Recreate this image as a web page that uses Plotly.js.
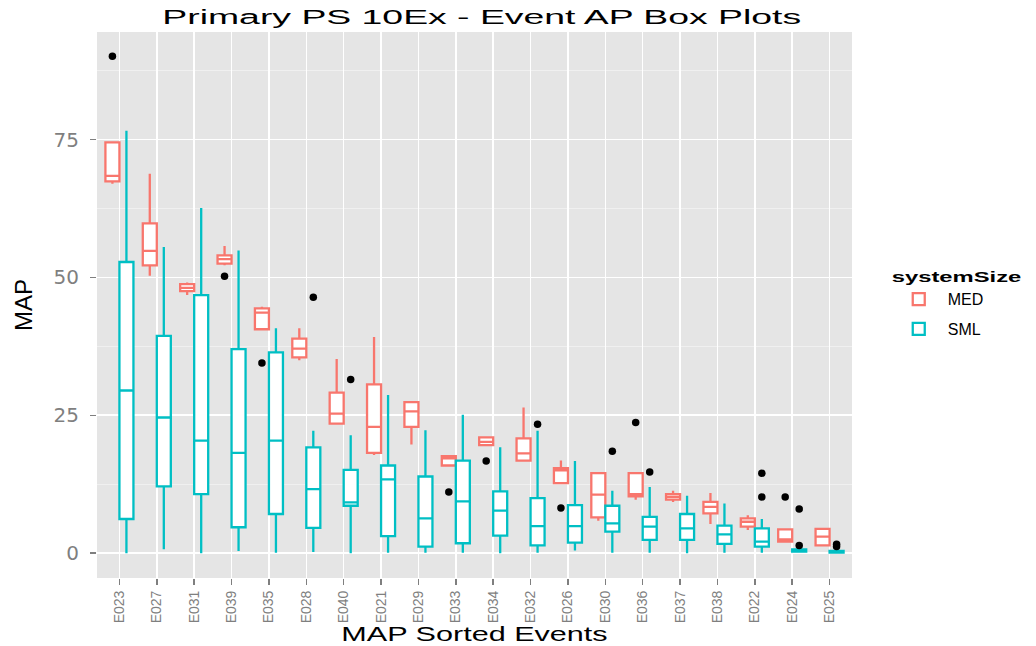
<!DOCTYPE html>
<html>
<head>
<meta charset="utf-8">
<script src="https://cdn.plot.ly/plotly-3.0.1.min.js"></script>
<style>
  html, body { margin: 0; padding: 0; background: #ffffff; }
  #chart { width: 1036px; height: 646px; }
  .gtitle { transform-box: fill-box; transform-origin: center; transform: scaleX(1.78); }
  .xtitle { transform-box: fill-box; transform-origin: center; transform: scaleX(1.53); }
  .legendtitletext { transform-box: fill-box; transform-origin: left center; transform: scaleX(1.7); }
</style>
</head>
<body>
<div id="chart"></div>
<script>
// ---- Data ----
const categories = ["E023","E027","E031","E039","E035","E028","E040","E021","E029","E033",
                    "E034","E032","E026","E030","E036","E037","E038","E022","E024","E025"];

// MED series: lower whisker, Q1, median, Q3, upper whisker
const medLow    = [67.0, 50.3, 46.8, 52.2, 40.6, 35.0, 23.5, 17.8, 19.7, 15.9, 19.6, 16.6, 12.7,  5.9,  9.7,  9.3,  5.3, 4.2, 2.1, 1.4];
const medQ1     = [67.4, 52.2, 47.5, 52.5, 40.6, 35.5, 23.5, 18.2, 22.9, 15.9, 19.6, 16.8, 12.7,  6.5, 10.3,  9.7,  7.2, 4.8, 2.1, 1.4];
const medMedian = [68.4, 54.8, 48.1, 53.3, 43.6, 37.1, 25.3, 22.9, 25.7, 17.2, 20.2, 18.1, 15.0, 10.6, 10.7, 10.2,  8.4, 5.7, 2.5, 3.0];
const medQ3     = [74.5, 59.8, 48.8, 54.0, 44.4, 38.9, 29.1, 30.6, 27.4, 17.6, 21.0, 20.8, 15.4, 14.5, 14.5, 10.7,  9.3, 6.3, 4.3, 4.4];
const medHigh   = [74.5, 68.8, 49.1, 55.7, 44.7, 40.8, 35.2, 39.2, 27.6, 17.8, 21.2, 26.4, 16.8, 14.5, 14.5, 11.3, 10.9, 6.9, 4.3, 4.4];

// SML series
const smlLow    = [ 0.0,  0.7,  0.0,  0.4,  0.1,  0.2,  0.0,  0.1,  0.1,  0.1,  0.0,  0.1,  0.5,  0.1,  0.1,  0.0, 0.1, 0.1, 0.2, 0.0];
const smlQ1     = [ 6.2, 12.1, 10.7,  4.7,  7.1,  4.6,  8.6,  3.1,  1.2,  1.8,  3.2,  1.4,  1.9,  3.9,  2.4,  2.4, 1.7, 1.2, 0.3, 0.1];
const smlMedian = [29.5, 24.6, 20.4, 18.2, 20.4, 11.6,  9.2, 13.4,  6.3,  9.4,  7.7,  4.9,  4.9,  5.4,  4.8,  4.5, 3.4, 2.1, 0.5, 0.2];
const smlQ3     = [52.8, 39.4, 46.8, 37.0, 36.4, 19.2, 15.1, 15.9, 13.9, 16.8, 11.2, 10.0,  8.7,  8.6,  6.6,  7.1, 5.0, 4.5, 0.7, 0.4];
const smlHigh   = [76.6, 55.5, 62.6, 54.9, 40.8, 22.2, 21.4, 28.7, 22.3, 25.1, 19.2, 22.2, 16.7, 11.3, 12.0, 10.4, 9.0, 6.2, 0.8, 0.5];

// Outliers
const medOutlierEvents = ["E023","E039","E035","E033","E034","E026","E036","E024"];
const medOutlierValues = [90.1, 50.2, 34.5, 11.1, 16.7, 8.2, 23.7, 10.2];
const smlOutlierEvents = ["E028","E040","E032","E030","E036","E022","E022","E024","E024","E025","E025"];
const smlOutlierValues = [46.4, 31.5, 23.4, 18.5, 14.7, 14.5, 10.2, 8.0, 1.4, 1.2, 1.6];

// ---- Styling ----
const MED_COLOR = "#F8766D";
const SML_COLOR = "#00BFC4";
const BOXGAP = 0.25;
const dodge = (1 - BOXGAP) / 4;   // centre offset of each box inside its group
const xRange = [-0.6, categories.length - 0.4];

const medTrace = {
  type: "box", name: "MED", x: categories,
  q1: medQ1, median: medMedian, q3: medQ3, lowerfence: medLow, upperfence: medHigh,
  boxpoints: false, fillcolor: "#ffffff", whiskerwidth: 0,
  line: { color: MED_COLOR, width: 2.3 }, marker: { color: MED_COLOR },
  legendgroup: "a", hoverinfo: "y"
};
const smlTrace = {
  type: "box", name: "SML", x: categories,
  q1: smlQ1, median: smlMedian, q3: smlQ3, lowerfence: smlLow, upperfence: smlHigh,
  boxpoints: false, fillcolor: "#ffffff", whiskerwidth: 0,
  line: { color: SML_COLOR, width: 2.3 }, marker: { color: SML_COLOR },
  legendgroup: "b", hoverinfo: "y"
};
const medOut = {
  type: "scatter", mode: "markers", xaxis: "x2", yaxis: "y",
  x: medOutlierEvents.map(e => categories.indexOf(e) - dodge),
  y: medOutlierValues,
  marker: { color: "#000000", size: 7.5 }, showlegend: false, hoverinfo: "y"
};
const smlOut = {
  type: "scatter", mode: "markers", xaxis: "x2", yaxis: "y",
  x: smlOutlierEvents.map(e => categories.indexOf(e) + dodge),
  y: smlOutlierValues,
  marker: { color: "#000000", size: 7.5 }, showlegend: false, hoverinfo: "y"
};

const layout = {
  width: 1036, height: 646,
  margin: { l: 97, r: 175, t: 32, b: 68 },
  paper_bgcolor: "#ffffff", plot_bgcolor: "#E5E5E5",
  font: { family: "Liberation Sans, Arial, sans-serif", color: "#000000" },
  title: {
    text: "Primary PS 10Ex - Event AP Box Plots",
    font: { size: 21, color: "#000000", family: "Liberation Sans, Arial, sans-serif" },
    x: 0.465, xref: "container", xanchor: "center",
    y: 0.974, yref: "container", yanchor: "middle"
  },
  boxmode: "group", boxgap: BOXGAP, boxgroupgap: 0,
  xaxis: {
    type: "category", categoryorder: "array", categoryarray: categories,
    range: xRange, automargin: false,
    showgrid: true, gridcolor: "#ffffff", gridwidth: 1.6,
    zeroline: false, showline: false,
    ticks: "outside", ticklen: 6, tickwidth: 1.5, tickcolor: "#7F7F7F",
    tickangle: -90, tickfont: { size: 14, color: "#7F7F7F" },
    title: { text: "MAP Sorted Events", font: { size: 20, color: "#000000" }, standoff: 1 }
  },
  xaxis2: {
    type: "linear", overlaying: "x", range: xRange, visible: false, anchor: "y"
  },
  yaxis: {
    range: [-4.5, 94.5], automargin: false,
    tickmode: "linear", tick0: 0, dtick: 25,
    showgrid: true, gridcolor: "#ffffff", gridwidth: 1.6,
    minor: { tick0: 0, dtick: 12.5, showgrid: true, gridcolor: "#F2F2F2", gridwidth: 0.8, ticks: "" },
    zeroline: false, showline: false,
    ticks: "outside", ticklen: 6, tickwidth: 1.5, tickcolor: "#7F7F7F",
    ticklabelstandoff: 7,
    tickfont: { size: 20, color: "#7F7F7F", family: "DejaVu Sans, sans-serif" },
    title: { text: "MAP", font: { size: 24, color: "#000000" }, standoff: 14 }
  },
  showlegend: true,
  legend: {
    x: 1.05, xanchor: "left", y: 0.575, yanchor: "top",
    bgcolor: "#ffffff", borderwidth: 0,
    tracegroupgap: 6, itemwidth: 48,
    title: { text: "<b>systemSize</b>", font: { size: 14, color: "#000000" } },
    font: { size: 16, color: "#000000" }
  }
};

Plotly.newPlot("chart", [medTrace, smlTrace, medOut, smlOut], layout, { displayModeBar: false, staticPlot: true });
</script>
</body>
</html>
